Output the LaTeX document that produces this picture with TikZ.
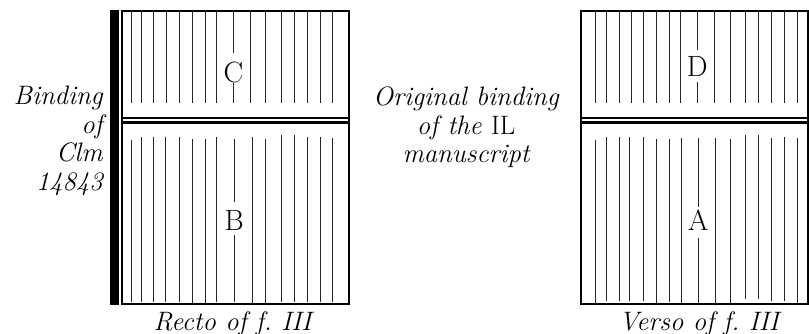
\documentclass[tikz,border=0pt]{standalone}
\usepackage{xcolor}
\usepackage{tikz}

\begin{document}
\begin{tikzpicture}[x=0.75pt,y=0.75pt,yscale=-1,xscale=1,
    rule/.style={line width=0.55pt, color=black!85},
    leaf/.style={line width=1.5pt},
    fold/.style={line width=2.6pt},
    caption/.style={inner sep=0pt, font=\fontsize{20}{21.4}\selectfont\itshape},
    quire/.style={inner sep=0pt, font=\fontsize{22}{24}\selectfont}]
    \useasboundingbox (0,0) rectangle (809,334);

        % recto of f. III
        \fill (110,10) rectangle (119,305);
        \draw [leaf] (121.7,11) rectangle (349,304);
        \draw [leaf] (121.7,118.3) -- (349,118.3);
        \draw [fold] (121.7,122.5) -- (349,122.5);
        \foreach \x in {131,141.7,153.3,166.7,179,192.7,205.3,216.7,250,265.7,281,294,307.3,320,332.7}
            \draw [rule] (\x,11) -- (\x,103);
        \foreach \x/\t/\b in {131/140/302,141.7/137.3/302,153.3/136.7/302,165/136.7/302,179/137.3/302,192.7/139.3/304,205.3/139.3/304,216.7/137.3/302,252.7/137.3/304,265.7/139.3/304,281/135/302,294/135/302,307.3/137.3/302,320/137.3/302,332.7/138.3/302}
            \draw [rule] (\x,\t) -- (\x,\b);
        \draw [rule] (233.3,11) -- (233.3,53);
        \draw [rule] (233.3,83) -- (233.3,103);
        \draw [rule] (234.3,139.3) -- (234.3,201.7);
        \draw [rule] (234.3,235) -- (234.3,302);
        \node [quire] (qC) at (233.3,72.5) {C};
        \node [quire] (qB) at (234.3,220) {B};

        % verso of f. III
        \draw [leaf] (580.7,11) rectangle (808,304);
        \draw [leaf] (580.7,118.3) -- (808,118.3);
        \draw [fold] (580.7,122.5) -- (808,122.5);
        \foreach \x in {595.7,606,619,631.7,643.3,656.7,669,680.7,714.3,730,745,758.3,771.7,784.3,797.3}
            \draw [rule] (\x,11) -- (\x,103);
        \foreach \x/\t/\b in {595.7/140/304,606/137.3/301,619/137.3/301,629.3/137.3/301,643.3/137.3/301,656.7/139.3/304,669/139.3/302,681.7/138.3/303,715/138.3/304,730.7/139.3/304,745/135/299,758.3/135/299,771.7/138.3/301,784.3/137.3/301,797.3/138.3/303}
            \draw [rule] (\x,\t) -- (\x,\b);
        \draw [rule] (697.3,11) -- (697.3,50);
        \draw [rule] (697.3,82) -- (697.3,103);
        \draw [rule] (698.3,138.3) -- (698.3,206.7);
        \draw [rule] (698.3,238.3) -- (698.3,303);
        \node [quire] (qD) at (697.3,66) {D};
        \node [quire] (qA) at (698.3,220) {A};

        % captions
        \node [caption, anchor=base east, align=right] (clm) at (103,190.5) {Binding\\of\\Clm\\14843};
        \node [caption, anchor=base, align=center] (orig) at (466,163) {Original binding\\of the \textup{IL}\\manuscript};
        \node [caption, anchor=base] (recto) at (232.5,330) {Recto of f.\ III};
        \node [caption, anchor=base] (verso) at (699,330) {Verso of f.\ III};

\end{tikzpicture}
\end{document}
